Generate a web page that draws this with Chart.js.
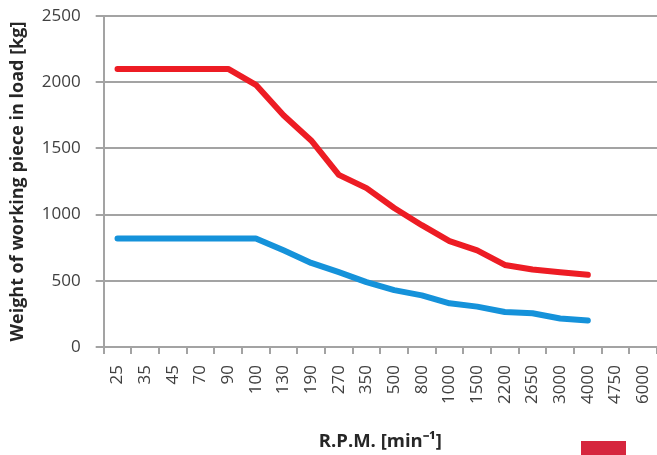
<!DOCTYPE html>
<html>
<head>
<meta charset="utf-8">
<script src="https://cdn.jsdelivr.net/npm/chart.js@4/dist/chart.umd.min.js"></script>
<style>
  html, body { margin: 0; padding: 0; background: #ffffff; overflow: hidden; }
  #wrap { position: relative; width: 657px; height: 481px; }
</style>
</head>
<body>
<div id="wrap"><canvas id="c"></canvas></div>
<script>
const rpmLabels = ['25','35','45','70','90','100','130','190','270','350','500','800','1000','1500','2200','2650','3000','4000','4750','6000'];
const redLoad  = [2100,2100,2100,2100,2100,1980,1750,1560,1300,1200,1050,920,800,730,620,585,565,545];
const blueLoad = [820,820,820,820,820,820,730,635,565,490,430,390,330,305,265,255,215,200];
const yTicks = [0,500,1000,1500,2000,2500];

const gridColor = '#a3a3a3';
const textColor = '#404040';
const redColor = '#ed1c24';
const blueColor = '#1592da';
const legendColor = '#d6263e';

new Chart(document.getElementById('c'), {
  type: 'line',
  data: {
    labels: rpmLabels,
    datasets: [
      { label: 'red', data: redLoad, borderColor: redColor, backgroundColor: redColor,
        borderWidth: 6, pointRadius: 0, tension: 0, borderCapStyle: 'round', borderJoinStyle: 'round', fill: false },
      { label: 'blue', data: blueLoad, borderColor: blueColor, backgroundColor: blueColor,
        borderWidth: 6, pointRadius: 0, tension: 0, borderCapStyle: 'round', borderJoinStyle: 'round', fill: false }
    ]
  },
  options: {
    responsive: true,
    maintainAspectRatio: false,
    animation: false,
    devicePixelRatio: 1,
    layout: { padding: { top: 16, left: 0, right: 0, bottom: 0 } },
    plugins: {
      tooltip: { enabled: false },
      legend: {
        display: true,
        position: 'bottom',
        align: 'end',
        labels: {
          boxWidth: 45, boxHeight: 30, padding: 25,
          font: { family: 'Open Sans', size: 12 },
          generateLabels: () => [{ text: '', fillStyle: legendColor, strokeStyle: legendColor, lineWidth: 0, hidden: false, datasetIndex: 0 }]
        },
        onClick: () => {}
      }
    },
    scales: {
      x: {
        type: 'category',
        offset: true,
        afterFit: (s) => { s.paddingLeft = 0; s.paddingRight = 0; },
        grid: { display: true, drawOnChartArea: false, drawTicks: true, tickLength: 7, offset: true, color: gridColor, lineWidth: 2 },
        border: { display: true, color: gridColor, width: 2 },
        ticks: {
          autoSkip: false, minRotation: 90, maxRotation: 90, padding: 11,
          color: textColor, font: { family: 'Open Sans', size: 17 }
        },
        title: {
          display: true, text: 'R.P.M. [min\u207B\u00B9]', color: '#262626',
          font: { family: 'Open Sans', size: 18.5, weight: 'bold' },
          padding: { top: 15.7, bottom: -36.8 }
        }
      },
      y: {
        min: 0, max: 2500,
        afterFit: (s) => { s.paddingTop = 0; s.paddingBottom = 0; },
        afterBuildTicks: (axis) => { axis.ticks = yTicks.map(v => ({ value: v })); },
        grid: { color: gridColor, lineWidth: 2, tickLength: 8, drawTicks: true },
        border: { display: true, color: gridColor, width: 2 },
        ticks: { padding: 15, color: textColor, font: { family: 'Open Sans', size: 17 },
                 callback: (v) => String(v) },
        title: {
          display: true, text: 'Weight of working piece in load [kg]', color: '#262626',
          font: { family: 'Open Sans', size: 18, weight: 'bold' },
          padding: { top: 6.7, bottom: -1.5 }
        }
      }
    }
  }
});
</script>
</body>
</html>
